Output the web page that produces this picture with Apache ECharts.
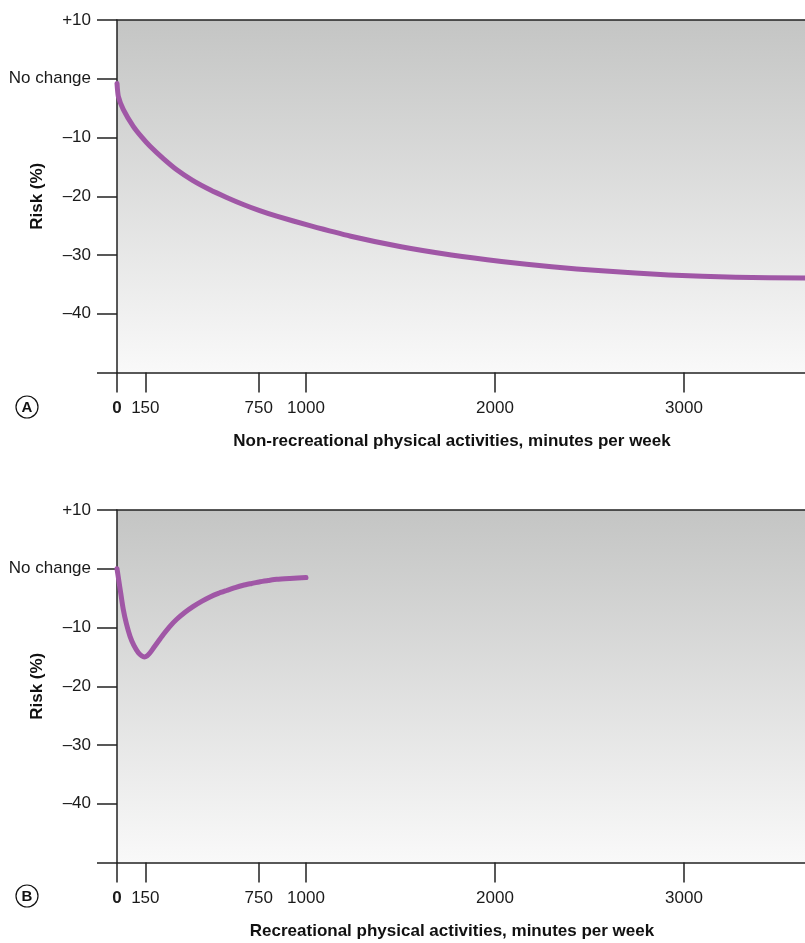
<!DOCTYPE html>
<html>
<head>
<meta charset="utf-8">
<script src="https://cdn.jsdelivr.net/npm/echarts@6/dist/echarts.min.js"></script>
<style>
html,body{margin:0;padding:0;background:#fff;}
#c{width:805px;height:943px;}
</style>
</head>
<body>
<div id="c"></div>
<script>
// Panel A: non-recreational activity (minutes/week) vs risk (%)
const minutesA = [0, 7, 33, 86, 130, 175, 245, 316, 400, 492, 580, 668, 755, 845, 1021, 1237, 1503, 1769, 2034, 2300, 2565, 2919, 3273, 3640];
const riskA = [-0.8, -3.0, -5.2, -8.1, -9.9, -11.5, -13.6, -15.5, -17.3, -18.9, -20.2, -21.4, -22.45, -23.4, -25.0, -26.8, -28.6, -30.0, -31.1, -32.0, -32.7, -33.4, -33.8, -33.9];
// Panel B: recreational activity
const minutesB = [0, 10, 20, 33, 50, 69, 90, 113, 130, 145, 160, 175, 193, 218, 245, 280, 316, 360, 404, 450, 492, 536, 580, 625, 668, 712, 757, 800, 845, 915, 1000];
const riskB = [0, -2.1, -4.2, -6.9, -9.4, -11.5, -13.1, -14.3, -14.8, -15.0, -14.8, -14.3, -13.5, -12.4, -11.2, -9.8, -8.6, -7.4, -6.4, -5.5, -4.8, -4.2, -3.7, -3.2, -2.8, -2.5, -2.2, -2.0, -1.8, -1.65, -1.5];

const xTickValues = [0, 150, 750, 1000, 2000, 3000];
const yTickValues = [10, 0, -10, -20, -30, -40, -50];
const yTickLabels = ['+10', 'No change', '\u201310', '\u201320', '\u201330', '\u201340', ''];
const xTitleA = 'Non-recreational physical activities, minutes per week';
const xTitleB = 'Recreational physical activities, minutes per week';
const yTitle = 'Risk (%)';
const panelLetters = ['A', 'B'];

const FONT = 'Liberation Sans, Arial, sans-serif';
const AXC = '#222';
const LINEC = '#a057a6';
const FS = 17;

const chart = echarts.init(document.getElementById('c'), null, {renderer: 'canvas'});

function bg() {
  return new echarts.graphic.LinearGradient(0, 0, 0, 1, [
    {offset: 0, color: '#c4c5c4'},
    {offset: 1, color: '#f9f9f9'}
  ]);
}
const grids = [
  {left: 117, right: 0, top: 20, height: 352.5, show: true, backgroundColor: bg(), borderWidth: 0, containLabel: false, outerBoundsMode: 'none'},
  {left: 117, right: 0, top: 510, height: 352.5, show: true, backgroundColor: bg(), borderWidth: 0, containLabel: false, outerBoundsMode: 'none'}
];

function xAxisMain(gi, title) {
  return {
    type: 'value', gridIndex: gi, min: 0, max: 3640, position: 'bottom',
    axisLine: {show: true, onZero: false, lineStyle: {color: AXC, width: 1.5}},
    axisTick: {show: true, length: 20, customValues: xTickValues, lineStyle: {color: AXC, width: 1.5}},
    axisLabel: {
      customValues: xTickValues, margin: 27, fontSize: FS, fontFamily: FONT, color: '#1a1a1a',
      hideOverlap: false,
      formatter: v => v === 0 ? '{b|0}' : String(v),
      rich: {b: {fontWeight: 'bold', fontSize: FS, fontFamily: FONT, color: '#1a1a1a'}}
    },
    splitLine: {show: false},
    name: title, nameLocation: 'middle', nameGap: 60, nameMoveOverlap: false,
    nameTextStyle: {fontSize: FS, fontWeight: 'bold', fontFamily: FONT, color: '#111', padding: [0, 18, 0, 0]}
  };
}
function xAxisTop(gi) {
  return {
    type: 'value', gridIndex: gi, min: 0, max: 3640, position: 'top',
    axisLine: {show: true, onZero: false, lineStyle: {color: AXC, width: 1.5}},
    axisTick: {show: false}, axisLabel: {show: false}, splitLine: {show: false}
  };
}
function yAxis(gi) {
  return {
    type: 'value', gridIndex: gi, min: -50, max: 10, interval: 10,
    axisLine: {show: true, onZero: false, lineStyle: {color: AXC, width: 1.5}},
    axisTick: {show: true, length: 20, lineStyle: {color: AXC, width: 1.5}},
    axisLabel: {
      margin: 26, fontSize: FS, fontFamily: FONT, color: '#1a1a1a',
      formatter: v => {
        const i = yTickValues.indexOf(v);
        return i >= 0 ? yTickLabels[i] : '';
      }
    },
    splitLine: {show: false},
    name: yTitle, nameLocation: 'middle', nameGap: 71, nameRotate: 90, nameMoveOverlap: false,
    nameTextStyle: {fontSize: FS, fontWeight: 'bold', fontFamily: FONT, color: '#111'}
  };
}

function series(gi, xs, ys) {
  return {
    type: 'line', xAxisIndex: gi * 2, yAxisIndex: gi,
    data: xs.map((x, i) => [x, ys[i]]),
    smooth: 0.2, showSymbol: false, symbol: 'none',
    lineStyle: {color: LINEC, width: 5, cap: 'round', join: 'round'},
    clip: false, z: 5
  };
}

function letter(cx, cy, t) {
  return {
    type: 'group', children: [
      {type: 'circle', shape: {cx: cx, cy: cy, r: 11}, style: {fill: '#fff', stroke: '#111', lineWidth: 1.2}},
      {type: 'text', x: cx, y: cy + 1, style: {text: t, fontSize: 15, fontWeight: 'bold', fontFamily: FONT, fill: '#111', align: 'center', verticalAlign: 'middle'}}
    ]
  };
}

chart.setOption({
  animation: false,
  backgroundColor: '#fff',
  grid: grids,
  xAxis: [xAxisMain(0, xTitleA), xAxisTop(0), xAxisMain(1, xTitleB), xAxisTop(1)],
  yAxis: [yAxis(0), yAxis(1)],
  series: [series(0, minutesA, riskA), series(1, minutesB, riskB)],
  graphic: [letter(27, 407, panelLetters[0]), letter(27, 896, panelLetters[1])]
});
</script>
</body>
</html>
